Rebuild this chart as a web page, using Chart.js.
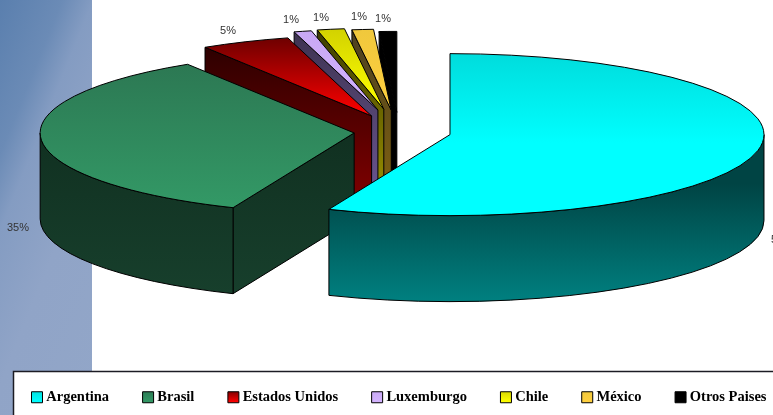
<!DOCTYPE html>
<html>
<head>
<meta charset="utf-8">
<script src="https://cdn.jsdelivr.net/npm/chart.js@4"></script>
<style>
html,body{margin:0;padding:0;width:773px;height:415px;overflow:hidden;background:#fff}
#strip{position:absolute;left:0;top:0;width:92px;height:415px;
background:linear-gradient(112deg,#5a7fae 0%,#6b8bb6 24%,#849cc2 36%,#90a4c7 60%,#92a6c8 100%)}
#wrap{position:absolute;left:0;top:0;width:830px;height:415px}
</style>
</head>
<body>
<div id="strip"></div>
<div id="wrap"><canvas id="c" width="830" height="415"></canvas></div>
<script>
const categories = ['Argentina','Brasil','Estados Unidos','Luxemburgo','Chile','México','Otros Paises'];
const shares = [56.3,34.8,4.6,0.9,1.4,1.1,0.9];

// styling
const faceTop    = ['#00dcdc','#2c7853','#6e0000','#c8a8f4','#d2d200','#f0c83c','#000000'];
const faceBottom = ['#00ffff','#339966','#ff0000','#d4b4ff','#ffff00','#ffd040','#000000'];
const wallTop    = ['#004444','#0e2a1c','#280000','#3c3250','#3c3c00','#4c4020','#000000'];
const wallBottom = ['#008080','#173f2c','#800000','#6a5590','#9a9000','#806010','#000000'];
const explode    = [52,45,68,88,90,85,76];
const labelSpots = [[771,240],[18,228],[228,31],[291,20],[321,18],[359,17],[383,19]];
const CX = 399, CY = 132, RADIUS = 314, TILT = 81/314, DEPTH = 86;

const pie3d = {
  id:'pie3d',
  beforeDraw(chart){
    const c = chart.ctx;
    c.save();
    c.fillStyle='#fff';
    c.fillRect(13.5,371.5,830,60);
    c.strokeStyle='#1c1c24';
    c.lineWidth=1.5;
    c.strokeRect(13.5,371.5,830,60);
    c.restore();
  },
  afterLayout(chart){
    chart.legend.top = 353;
    chart.legend.left = -2;
  },
  beforeDatasetsDraw(chart){
    const c = chart.ctx;
    const arcs = chart.getDatasetMeta(0).data;
    for(let i=arcs.length-1;i>=0;i--){
      const arc = arcs[i];
      const a0 = arc.startAngle, a1 = arc.endAngle, mid=(a0+a1)/2;
      const r = arc.outerRadius, d = explode[i];
      const X = CX + d*Math.cos(mid), Y = CY + TILT*d*Math.sin(mid);
      const ry = r*TILT;
      const px = a=>X+r*Math.cos(a), py = a=>Y+ry*Math.sin(a);

      // extent of the top face
      let yMin=Math.min(Y,py(a0),py(a1)), yMax=Math.max(Y,py(a0),py(a1));
      const has = t=>{for(let k=-2;k<=2;k++){const v=t+k*2*Math.PI;if(v>a0&&v<a1)return true}return false};
      if(has(-Math.PI/2)) yMin=Y-ry;
      if(has(Math.PI/2)) yMax=Y+ry;

      // walls
      const wg = c.createLinearGradient(0,i===0?Y+ry*0.6:yMin,0,yMax+DEPTH);
      wg.addColorStop(0,wallTop[i]); wg.addColorStop(1,wallBottom[i]);
      c.save();
      c.fillStyle=wg; c.strokeStyle='#000'; c.lineWidth=1; c.lineJoin='round';
      const quad=a=>{
        c.beginPath();
        c.moveTo(X,Y); c.lineTo(px(a),py(a)); c.lineTo(px(a),py(a)+DEPTH); c.lineTo(X,Y+DEPTH);
        c.closePath(); c.fill(); c.stroke();
      };
      if(Math.cos(a0)<-0.01) quad(a0);
      if(Math.cos(a1)>0.01) quad(a1);
      const s=Math.max(a0,0), e=Math.min(a1,Math.PI);
      if(e>s){
        c.beginPath();
        c.ellipse(X,Y,r,ry,0,s,e,false);
        c.ellipse(X,Y+DEPTH,r,ry,0,e,s,true);
        c.closePath(); c.fill(); c.stroke();
      }
      c.restore();

      // top face, drawn by the library's arc element in a tilted frame
      const local = y=>arc.y+(y-Y)/TILT;
      const fg = c.createLinearGradient(0,local(yMin),0,local(i===0?Y+ry*0.1:yMax));
      fg.addColorStop(0,faceTop[i]); fg.addColorStop(1,faceBottom[i]);
      arc.options = Object.assign({},arc.options,{backgroundColor:fg,borderWidth:0});
      c.save();
      c.translate(X,Y); c.scale(1,TILT); c.translate(-arc.x,-arc.y);
      arc.draw(c);
      c.restore();

      // outline
      c.save();
      c.strokeStyle='#000'; c.lineWidth=1; c.lineJoin='round';
      c.beginPath();
      c.moveTo(X,Y); c.ellipse(X,Y,r,ry,0,a0,a1,false); c.closePath();
      c.stroke();
      c.restore();
    }
    return false;
  },
  afterDraw(chart){
    const c = chart.ctx;
    const total = shares.reduce((a,b)=>a+b,0);
    c.save();
    c.fillStyle='#333';
    c.font='11px "Liberation Sans", Arial, sans-serif';
    c.textBaseline='middle'; c.textAlign='left';
    shares.forEach((v,i)=>{
      const t = Math.round(v/total*100)+'%';
      const w = c.measureText(t).width;
      c.fillText(t,i===0?labelSpots[i][0]:labelSpots[i][0]-w/2,labelSpots[i][1]);
    });
    c.restore();
  }
};

new Chart(document.getElementById('c').getContext('2d'),{
  type:'pie',
  data:{labels:categories,datasets:[{data:shares,backgroundColor:faceBottom,borderWidth:0,radius:RADIUS}]},
  options:{
    responsive:false,animation:false,
    plugins:{
      tooltip:{enabled:false},
      legend:{
        position:'bottom',align:'start',
        labels:{
          usePointStyle:true,boxWidth:4,boxHeight:11,padding:37,color:'#000',
          font:{family:'"Liberation Serif", serif',size:14.5,weight:'bold'},
          generateLabels(chart){
            const c=chart.ctx;
            return categories.map((t,i)=>{
              const g=c.createLinearGradient(0,390,0,402);
              g.addColorStop(0,faceTop[i]); g.addColorStop(1,faceBottom[i]);
              return {text:t,fillStyle:g,strokeStyle:'#000',lineWidth:1,pointStyle:'rect',hidden:false,index:i,fontColor:'#000'};
            });
          }
        }
      }
    }
  },
  plugins:[pie3d]
});
</script>
</body>
</html>
